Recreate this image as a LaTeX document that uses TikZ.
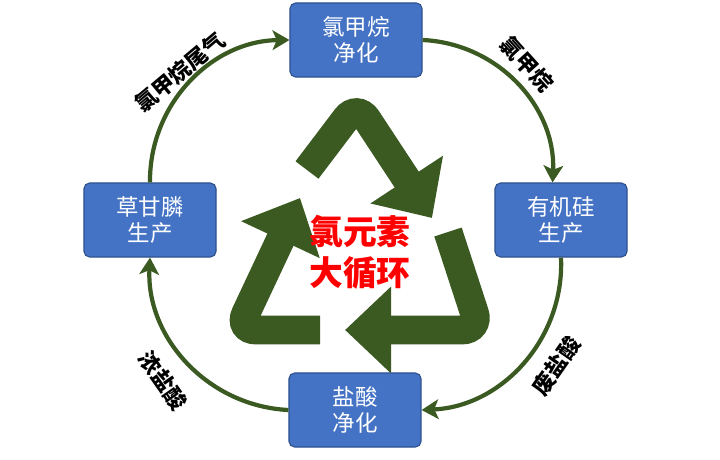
\documentclass[tikz,border=0pt]{standalone}
\usepackage{fontspec}
\setmainfont{Noto Sans CJK SC}
\usetikzlibrary{arrows.meta}
\definecolor{boxblue}{HTML}{4472C4}
\definecolor{boxline}{HTML}{2F528F}
\definecolor{leaf}{HTML}{3B5A22}
\tikzset{
  stage/.style={draw=boxline, fill=boxblue, rounded corners=4pt, line width=0.8pt,
    minimum width=3.3cm, minimum height=1.85cm, text=white, align=center,
    font=\fontsize{16}{19}\selectfont},
  cycle/.style={draw=leaf, line width=3pt, -{Stealth[length=12pt,width=14pt,inset=3pt]}},
  tag/.style={font=\bfseries\fontsize{15.5}{17}\selectfont, inner sep=0pt},
  arm/.style={draw=leaf, line width=0.72cm, rounded corners=0.45cm,
    -{Triangle[width=2.1cm,length=1.15cm]}}
}
\begin{document}
\begin{tikzpicture}[x=0.025cm,y=-0.025cm]
\useasboundingbox (0,0) rectangle (720,459);

% Recycle symbol
\draw[arm] (307,170) -- (357,104) -- (432,218);
\draw[arm] (320,330) -- (238,330) -- (300,198);
\draw[arm] (448,232) -- (480,330) -- (345,330);
\node[text=red, font=\bfseries\fontsize{24}{29}\selectfont, align=center] (core) at (360,252) {氯元素\\大循环};

% Stages
\node[stage] (top) at (356,40) {氯甲烷\\净化};
\node[stage] (right) at (561,220) {有机硅\\生产};
\node[stage] (bottom) at (355,410) {盐酸\\净化};
\node[stage] (left) at (150,220) {草甘膦\\生产};

% Cycle
\draw[cycle] (left.north) to[bend left=45] (top.west);
\draw[cycle] (top.east) to[bend left=45] ([xshift=-6pt]right.north);
\draw[cycle] (right.south) to[bend left=45] (bottom.east);
\draw[cycle] (bottom.west) to[bend left=45] (left.south);

% Labels
\node[tag, rotate=40] (lab1) at (180,72) {氯甲烷尾气};
\node[tag, rotate=-48] (lab2) at (527,64) {氯甲烷};
\node[tag, rotate=55] (lab3) at (556,366) {废盐酸};
\node[tag, rotate=-55] (lab4) at (163,381) {浓盐酸};
\end{tikzpicture}
\end{document}
